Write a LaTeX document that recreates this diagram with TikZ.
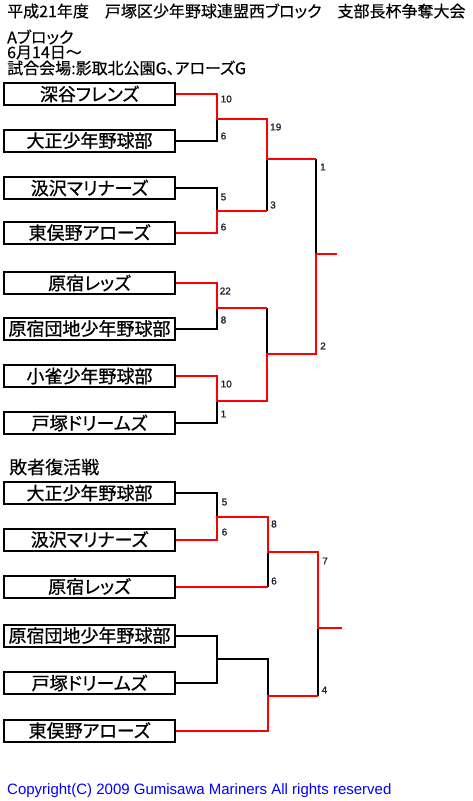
\documentclass[tikz,border=0pt]{standalone}
\usepackage{fontspec}
\setmainfont{Liberation Sans}
\newfontfamily\jp[RawFeature=+palt,FakeBold=0.3]{Noto Sans CJK JP}
\newfontfamily\jpb[RawFeature=+palt,FakeBold=0.7]{Noto Sans CJK JP}
\newfontfamily\scf[FakeBold=0.8]{Liberation Sans}
\definecolor{scorecol}{RGB}{30,30,50}
\begin{document}
\begin{tikzpicture}[x=1pt,y=-1pt,
  team/.style={draw, line width=2pt, minimum width=171pt, minimum height=22pt, inner sep=0pt, font=\jpb\fontsize{18}{18}\selectfont},
  win/.style={red, line width=2pt},
  lose/.style={black, line width=2pt},
  score/.style={anchor=west, inner sep=0pt, text=scorecol, font=\scf\fontsize{10}{10}\selectfont},
  head/.style={anchor=west, inner sep=0pt, font=\jp\fontsize{16}{16}\selectfont}]
\fill[white] (0,0) rectangle (472,801);
\useasboundingbox (0,0) rectangle (472,801);

% header
\node[head] (title) at (7,11) {平成21年度　戸塚区少年野球連盟西ブロック　支部長杯争奪大会};
\node[head] (blk) at (7,37) {Aブロック};
\node[head] (date) at (7,52.5) {6月14日～};
\node[head] (venue) at (7,68) {試合会場:影取北公園G、アローズG};

% main bracket teams
\node[team] (t1) at (89.5,94) {深谷フレンズ};
\node[team] (t2) at (89.5,140.5) {大正少年野球部};
\node[team] (t3) at (89.5,188) {汲沢マリナーズ};
\node[team] (t4) at (89.5,232.5) {東俣野アローズ};
\node[team] (t5) at (89.5,283) {原宿レッズ};
\node[team] (t6) at (89.5,328.5) {原宿団地少年野球部};
\node[team] (t7) at (89.5,376) {小雀少年野球部};
\node[team] (t8) at (89.5,423) {戸塚ドリームズ};

\coordinate (m1) at (217,119);
\coordinate (m2) at (217,211);
\coordinate (m3) at (217,308);
\coordinate (m4) at (217,401);
\coordinate (s1) at (267,159);
\coordinate (s2) at (267,354);
\coordinate (f) at (316,254);
\coordinate (fe) at (337,254);

\draw[lose] (t2.east) -| (m1);
\draw[lose] (t3.east) -| (m2);
\draw[lose] (m2 -| s1) -- (s1);
\draw[lose] (s1 -| f) -- (f);
\draw[lose] (t6.east) -| (m3);
\draw[lose] (m3 -| s2) -- (s2);
\draw[lose] (t8.east) -| (m4);
\draw[win] (t1.east) -| (m1) -| (s1) -- (s1 -| f);
\draw[win] (t4.east) -| (m2) -- (m2 -| s1);
\draw[win] (t5.east) -| (m3) -- (m3 -| s2);
\draw[win] (t7.east) -| (m4) -| (s2) -| (f) -- (fe);

\node[score] (a1) at (220.5,99) {10};
\node[score] (a2) at (220.5,136) {6};
\node[score] (a3) at (220.5,197) {5};
\node[score] (a4) at (220.5,227) {6};
\node[score] (a5) at (219.5,291) {22};
\node[score] (a6) at (220.5,320) {8};
\node[score] (a7) at (220.5,384) {10};
\node[score] (a8) at (220.5,414) {1};
\node[score] (b1) at (270,127) {19};
\node[score] (b2) at (270,205) {3};
\node[score] (c1) at (320,167) {1};
\node[score] (c2) at (320,346) {2};

% losers bracket
\node[head, font=\jp\fontsize{18}{18}\selectfont] (loser) at (9,467) {敗者復活戦};
\node[team] (l1) at (89.5,493) {大正少年野球部};
\node[team] (l2) at (89.5,539.5) {汲沢マリナーズ};
\node[team] (l3) at (89.5,586.5) {原宿レッズ};
\node[team] (l4) at (89.5,635.5) {原宿団地少年野球部};
\node[team] (l5) at (89.5,683) {戸塚ドリームズ};
\node[team] (l6) at (89.5,730.5) {東俣野アローズ};

\coordinate (lm1) at (217,517);
\coordinate (ls1) at (268,552);
\coordinate (lm2) at (217,659);
\coordinate (ls2) at (268,696);
\coordinate (lf) at (318,628);
\coordinate (lfe) at (342,628);

\draw[lose] (l1.east) -| (lm1);
\draw[lose] (l3.east -| ls1) -- (ls1);
\draw[lose] (l4.east) -| (lm2) -- (lm2 -| ls2) -- (ls2);
\draw[lose] (l5.east) -| (lm2);
\draw[lose] (ls2 -| lf) -- (lf);
\draw[win] (l3.east) -- (l3.east -| ls1);
\draw[win] (l2.east) -| (lm1) -| (ls1) -| (lf) -- (lfe);
\draw[win] (l6.east) -| (ls2) -- (ls2 -| lf);

\node[score] (d1) at (221.5,502) {5};
\node[score] (d2) at (221.5,532) {6};
\node[score] (e1) at (271,524) {8};
\node[score] (e2) at (271,581) {6};
\node[score] (g1) at (322,561) {7};
\node[score] (g2) at (321.5,690) {4};

% footer
\node[anchor=west, inner sep=0pt, text=blue, font=\fontsize{15}{15}\selectfont] (copy) at (7,791) {Copyright(C) 2009 Gumisawa Mariners All rights reserved};
\end{tikzpicture}
\end{document}
